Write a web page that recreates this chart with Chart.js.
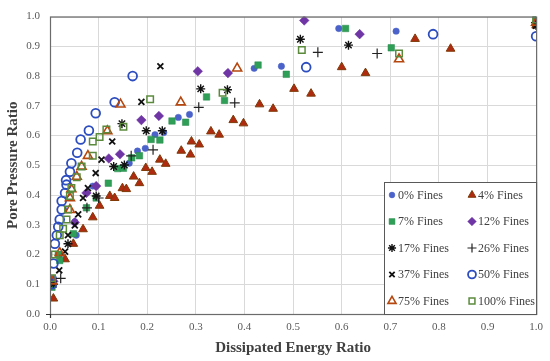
<!DOCTYPE html>
<html>
<head>
<meta charset="utf-8">
<script src="https://cdn.jsdelivr.net/npm/chart.js@4/dist/chart.umd.min.js"></script>
<style>
  html, body { margin: 0; padding: 0; background: #fff; }
</style>
</head>
<body>
<canvas id="myChart" width="550" height="361"></canvas>
<script>
// tick labels
const xTicks = [0, 0.1, 0.2, 0.3, 0.4, 0.5, 0.6, 0.7, 0.8, 0.9, 1.0];
const yTicks = [0, 0.1, 0.2, 0.3, 0.4, 0.5, 0.6, 0.7, 0.8, 0.9, 1.0];

const seriesNames = ["0% Fines", "4% Fines", "7% Fines", "12% Fines", "17% Fines",
  "26% Fines", "37% Fines", "50% Fines", "75% Fines", "100% Fines"];

// [dissipated energy ratio, pore pressure ratio]
const fines0 = [[0.004,0.10],[0.007,0.12],[0.02,0.2],[0.054,0.265],[0.051,0.31],[0.088,0.43],
  [0.163,0.507],[0.18,0.548],[0.196,0.557],[0.216,0.603],[0.234,0.61],[0.264,0.661],[0.287,0.671],
  [0.42,0.826],[0.476,0.833],[0.594,0.96],[0.712,0.951],[1.0,0.98]];
const fines4 = [[0.007,0.052],[0.031,0.184],[0.048,0.236],[0.068,0.285],[0.088,0.325],[0.102,0.364],
  [0.123,0.397],[0.133,0.39],[0.149,0.423],[0.157,0.42],[0.184,0.44],[0.172,0.462],[0.197,0.491],
  [0.21,0.478],[0.226,0.519],[0.238,0.505],[0.27,0.549],[0.289,0.536],[0.291,0.58],[0.307,0.57],
  [0.331,0.614],[0.348,0.603],[0.377,0.652],[0.398,0.641],[0.431,0.705],[0.459,0.69],[0.502,0.757],
  [0.537,0.741],[0.6,0.83],[0.649,0.81],[0.751,0.925],[0.824,0.892],[1.0,0.97]];
const fines7 = [[0.004,0.09],[0.017,0.2],[0.02,0.18],[0.048,0.27],[0.075,0.357],[0.095,0.39],
  [0.12,0.44],[0.139,0.489],[0.151,0.49],[0.168,0.525],[0.184,0.532],[0.208,0.587],[0.226,0.585],
  [0.251,0.649],[0.279,0.645],[0.322,0.73],[0.359,0.718],[0.428,0.837],[0.486,0.806],[0.608,0.96],
  [0.702,0.895],[1.0,0.99]];
const fines12 = [[0.007,0.11],[0.051,0.308],[0.075,0.407],[0.095,0.43],[0.121,0.523],[0.144,0.537],
  [0.188,0.652],[0.224,0.666],[0.304,0.816],[0.366,0.81],[0.523,0.987],[0.637,0.941],[1.0,0.98]];
const fines17 = [[0.007,0.1],[0.037,0.236],[0.095,0.397],[0.131,0.496],[0.153,0.501],[0.148,0.64],
  [0.198,0.616],[0.231,0.616],[0.31,0.757],[0.365,0.754],[0.515,0.924],[0.614,0.904],[1.0,0.97]];
const fines26 = [[0.022,0.12],[0.076,0.357],[0.1,0.39],[0.167,0.532],[0.212,0.552],[0.306,0.695],
  [0.38,0.71],[0.551,0.88],[0.673,0.876],[1.0,0.98]];
const fines37 = [[0.019,0.147],[0.031,0.21],[0.037,0.265],[0.051,0.298],[0.058,0.335],[0.068,0.39],
  [0.078,0.423],[0.094,0.474],[0.106,0.519],[0.128,0.58],[0.188,0.713],[0.227,0.833],[1.0,0.97]];
const fines50 = [[0.004,0.1],[0.007,0.17],[0.01,0.236],[0.014,0.265],[0.017,0.293],[0.02,0.318],
  [0.024,0.351],[0.024,0.38],[0.031,0.407],[0.034,0.435],[0.033,0.45],[0.041,0.478],[0.044,0.507],
  [0.056,0.542],[0.063,0.587],[0.08,0.617],[0.094,0.675],[0.133,0.712],[0.17,0.80],[0.527,0.83],
  [0.788,0.941],[1.0,0.934]];
const fines75 = [[0.004,0.11],[0.02,0.206],[0.041,0.35],[0.041,0.39],[0.044,0.42],[0.055,0.462],
  [0.065,0.496],[0.078,0.532],[0.118,0.615],[0.145,0.705],[0.269,0.712],[0.385,0.826],[0.718,0.857],
  [1.0,0.98]];
const fines100 = [[0.004,0.12],[0.01,0.2],[0.02,0.265],[0.027,0.287],[0.034,0.318],[0.037,0.351],
  [0.041,0.397],[0.044,0.424],[0.055,0.46],[0.065,0.496],[0.088,0.532],[0.088,0.58],[0.102,0.595],
  [0.116,0.62],[0.151,0.63],[0.206,0.722],[0.355,0.744],[0.518,0.888],[0.718,0.876],[1.0,0.99]];

const allSeries = [fines0, fines4, fines7, fines12, fines17, fines26, fines37, fines50, fines75, fines100];

const FONT = "'Liberation Serif', 'DejaVu Serif', serif";
const clear = "rgba(0,0,0,0)";

// marker look for each series
const markers = [
  { pointStyle: "circle",   radius: 3.2, backgroundColor: "#4a62c9", borderColor: "#4a62c9", borderWidth: 0.5 },
  { pointStyle: "triangle", radius: 5,   backgroundColor: "#b02a10", borderColor: "#7f3a08", borderWidth: 1 },
  { pointStyle: "rect",     radius: 4.6, backgroundColor: "#2f9e57", borderColor: "#2a8a4d", borderWidth: 0.5 },
  { pointStyle: "rectRot",  radius: 4.8, backgroundColor: "#6f35a5", borderColor: "#6f35a5", borderWidth: 0.5 },
  { pointStyle: "star",     radius: 4.5, backgroundColor: clear,     borderColor: "#111111", borderWidth: 1.4 },
  { pointStyle: "cross",    radius: 5,   backgroundColor: clear,     borderColor: "#222222", borderWidth: 1.2 },
  { pointStyle: "crossRot", radius: 4.2, backgroundColor: clear,     borderColor: "#111111", borderWidth: 1.8 },
  { pointStyle: "circle",   radius: 4.4, backgroundColor: clear,     borderColor: "#2c4dbf", borderWidth: 1.8 },
  { pointStyle: "triangle", radius: 5.2, backgroundColor: clear,     borderColor: "#b5470f", borderWidth: 1.6 },
  { pointStyle: "rect",     radius: 4.6, backgroundColor: clear,     borderColor: "#5b8a3c", borderWidth: 1.5 }
];

const datasets = allSeries.map((s, i) => ({
  label: seriesNames[i],
  data: s.map(p => ({ x: p[0], y: p[1] })),
  pointStyle: markers[i].pointStyle,
  pointRadius: markers[i].radius,
  pointBackgroundColor: markers[i].backgroundColor,
  pointBorderColor: markers[i].borderColor,
  pointBorderWidth: markers[i].borderWidth,
  showLine: false,
  order: -i
}));

// frame, origin tick and the boxed two-column legend
const framePlugin = {
  id: "frame",
  afterDraw(chart) {
    const { ctx, chartArea: a } = chart;
    ctx.save();
    ctx.strokeStyle = "#6b6b6b";
    ctx.lineWidth = 1.2;
    ctx.strokeRect(a.left + 0.5, a.top + 0.5, a.right - a.left, a.bottom - a.top);
    ctx.strokeStyle = "#333";
    ctx.beginPath();
    ctx.moveTo(a.left - 4, a.bottom + 0.5); ctx.lineTo(a.left, a.bottom + 0.5);
    ctx.moveTo(a.left + 0.5, a.bottom); ctx.lineTo(a.left + 0.5, a.bottom + 4);
    ctx.stroke();

    // legend box
    const bx = 384, by = 182, bw = a.right - 384, bh = a.bottom - 182;
    ctx.fillStyle = "#fff";
    ctx.fillRect(bx, by, bw, bh);
    ctx.strokeStyle = "#595959";
    ctx.lineWidth = 1;
    ctx.strokeRect(bx + 0.5, by + 0.5, bw, bh);

    ctx.font = "12px " + FONT;
    ctx.textBaseline = "middle";
    ctx.textAlign = "left";
    seriesNames.forEach((name, i) => {
      const col = i % 2, row = Math.floor(i / 2);
      const mx = col === 0 ? 392 : 472;
      const my = 195 + row * 26.5;
      const m = markers[i];
      ctx.fillStyle = m.backgroundColor;
      ctx.strokeStyle = m.borderColor;
      ctx.lineWidth = m.borderWidth;
      Chart.helpers.drawPoint(ctx, {
        pointStyle: m.pointStyle, radius: m.radius * 0.9, rotation: 0, borderWidth: m.borderWidth
      }, mx, my);
      ctx.fillStyle = "#404040";
      ctx.fillText(name, mx + 6, my + 0.5);
    });
    ctx.restore();
  }
};

const tickFont = { family: FONT, size: 11 };
const titleFont = { family: FONT, size: 15, weight: "bold" };

new Chart(document.getElementById("myChart"), {
  type: "scatter",
  data: { datasets },
  options: {
    responsive: false,
    animation: false,
    devicePixelRatio: 1,
    layout: { padding: { top: 8, right: 10, left: 0, bottom: 0 } },
    plugins: { legend: { display: false }, tooltip: { enabled: false } },
    scales: {
      x: {
        type: "linear", min: 0, max: 1,
        afterBuildTicks: s => { s.ticks = xTicks.map(v => ({ value: v })); },
        afterFit: s => { s.height = 47; },
        ticks: { callback: v => v.toFixed(1), font: tickFont, color: "#595959", padding: 7, maxRotation: 0 },
        grid: { color: "#d9d9d9", drawTicks: false },
        border: { display: false },
        title: { display: true, text: "Dissipated Energy Ratio", font: titleFont, color: "#404040",
                 padding: { top: 4, bottom: 4 } }
      },
      y: {
        type: "linear", min: 0, max: 1,
        afterBuildTicks: s => { s.ticks = yTicks.map(v => ({ value: v })); },
        afterFit: s => { s.width = 50; },
        ticks: { callback: v => v.toFixed(1), font: tickFont, color: "#595959", padding: 10 },
        grid: { color: "#d9d9d9", drawTicks: false },
        border: { display: false },
        title: { display: true, text: "Pore Pressure Ratio", font: titleFont, color: "#404040",
                 padding: { top: 4, bottom: 4 } }
      }
    }
  },
  plugins: [framePlugin]
});
</script>
</body>
</html>
